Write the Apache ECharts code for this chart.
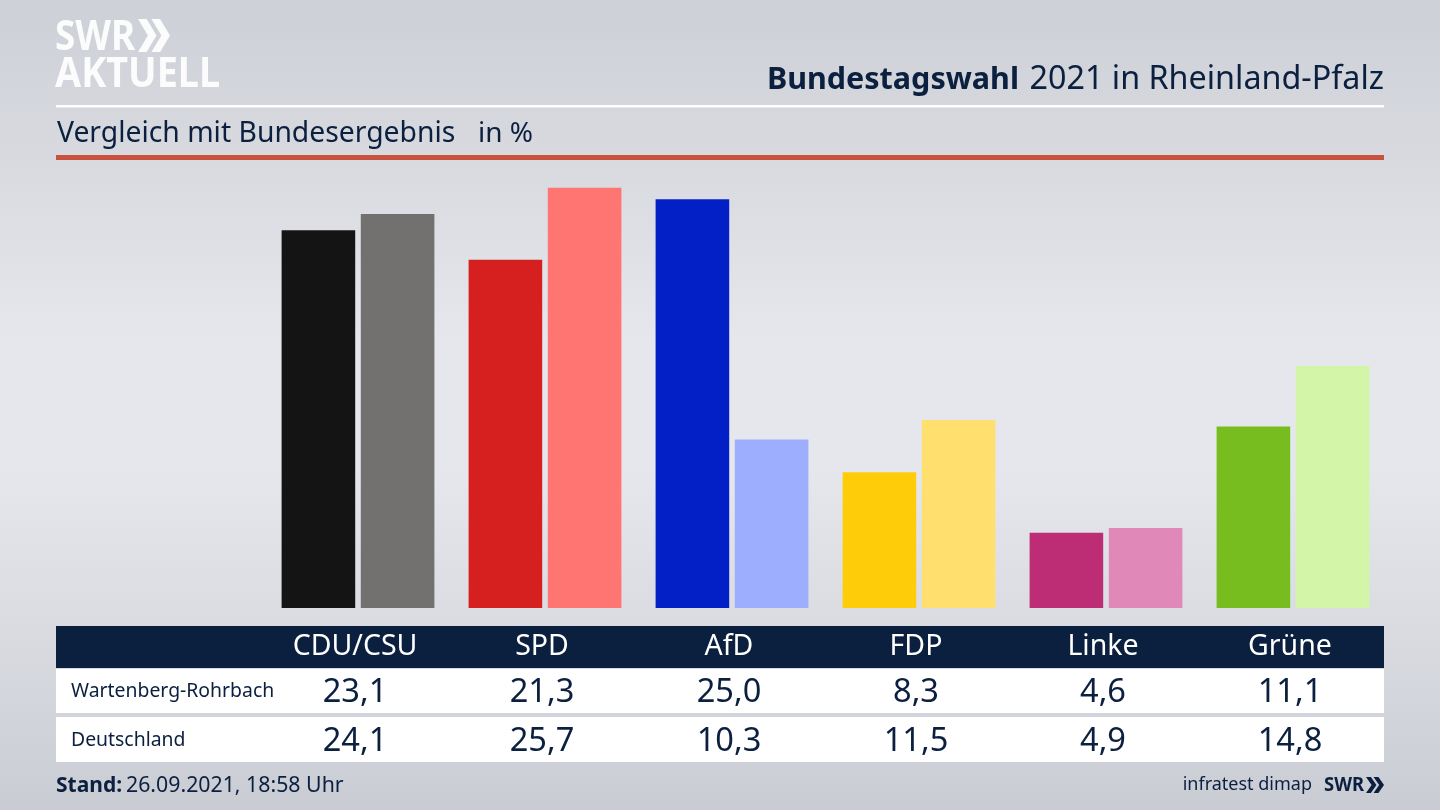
<!DOCTYPE html>
<html>
<head>
<meta charset="utf-8">
<style>html,body{margin:0;padding:0;background:#d8dae0}#main{width:1440px;height:810px}</style>
<script src="https://cdn.jsdelivr.net/npm/echarts@6/dist/echarts.min.js"></script>
</head>
<body>
<div id="main"></div>
<script>
// data
var parties = ['CDU/CSU', 'SPD', 'AfD', 'FDP', 'Linke', 'Grüne'];
var localName = 'Wartenberg-Rohrbach';
var nationalName = 'Deutschland';
var localValues = [23.1, 21.3, 25.0, 8.3, 4.6, 11.1];
var nationalValues = [24.1, 25.7, 10.3, 11.5, 4.9, 14.8];
var localColors = ['#141414', '#d61f1f', '#0320c6', '#ffcc0a', '#bd2d75', '#78bd1f'];
var nationalColors = ['#72716f', '#ff7571', '#9eaeff', '#ffe06f', '#e088b8', '#d3f5a8'];

var navy = '#0b1f3f';
var logoWhite = 'rgba(255,255,255,0.92)';
var font = '"Noto Sans", sans-serif';

function fmt(v) { return v.toFixed(1).replace('.', ','); }

function coloured(values, colors) {
	return values.map(function (v, i) {
		return { value: v, itemStyle: { color: colors[i] } };
	});
}

function rect(x, y, w, h, fill) {
	return { type: 'rect', silent: true, z: 1, shape: { x: x, y: y, width: w, height: h }, style: { fill: fill } };
}

function label(x, y, str, size, fill, align, weight, scaleX) {
	return {
		type: 'text', silent: true, z: 5, x: x, y: y, scaleX: scaleX || 1,
		style: {
			text: str, fill: fill, font: (weight || 'normal') + ' ' + size + 'px ' + font,
			align: align || 'left', verticalAlign: 'middle'
		}
	};
}

// the >> of the SWR logo
function chevrons(x, y, w, h, fill) {
	var cw = w * 0.58, t = w * 0.27, out = [];
	[0, w * 0.42].forEach(function (dx) {
		out.push({
			type: 'polygon', silent: true, z: 5,
			shape: { points: [[x + dx, y], [x + dx + t, y], [x + dx + cw, y + h / 2], [x + dx + t, y + h], [x + dx, y + h], [x + dx + cw - t, y + h / 2]] },
			style: { fill: fill }
		});
	});
	return out;
}

var myChart = echarts.init(document.getElementById('main'), null, { renderer: 'canvas' });

var option = {
	animation: false,
	backgroundColor: {
		type: 'linear', x: 0, y: 0, x2: 0, y2: 1,
		colorStops: [
			{ offset: 0, color: '#cdd0d6' },
			{ offset: 0.2, color: '#d8dae0' },
			{ offset: 0.42, color: '#e6e7ec' },
			{ offset: 0.58, color: '#e6e7ec' },
			{ offset: 0.8, color: '#d8dae0' },
			{ offset: 1, color: '#c9ccd3' }
		]
	},
	grid: { left: 264.5, right: 53.5, top: 166.6, bottom: 202 },
	xAxis: {
		type: 'category', data: parties,
		axisLine: { show: false }, axisTick: { show: false }, axisLabel: { show: false }
	},
	yAxis: { type: 'value', min: 0, max: 27, show: false },
	series: [
		{ name: localName, type: 'bar', barWidth: 73.6, barGap: '7.6%', data: coloured(localValues, localColors) },
		{ name: nationalName, type: 'bar', barWidth: 73.6, data: coloured(nationalValues, nationalColors) }
	]
};
myChart.setOption(option);

// table and header, columns follow the category axis
var els = [
	rect(56, 105, 1328, 2.5, '#ffffff'),
	rect(56, 155, 1328, 5, '#c8523f'),
	rect(56, 626, 1328, 42, navy),
	rect(56, 669, 1328, 44, '#ffffff'),
	rect(56, 717, 1328, 45, '#ffffff'),
	label(55, 38, 'SWR', 42, logoWhite, 'left', 'bold', 0.88),
	label(55, 75, 'AKTUELL', 42, logoWhite, 'left', 'bold', 0.9),
	label(1019, 80, 'Bundestagswahl', 30.5, navy, 'right', 'bold'),
	label(1384, 80, '2021 in Rheinland-Pfalz', 32.3, navy, 'right'),
	label(57, 134, 'Vergleich mit Bundesergebnis', 28.3, navy),
	label(478, 134, 'in %', 28, navy),
	label(71, 691, localName, 19.4, navy),
	label(71, 740, nationalName, 19.4, navy),
	label(56, 786, 'Stand:', 21, navy, 'left', 'bold'),
	label(126, 786, '26.09.2021, 18:58 Uhr', 21.3, navy),
	label(1312, 785, 'infratest dimap', 18, navy, 'right'),
	label(1324, 785, 'SWR', 20, navy, 'left', 'bold', 0.92)
].concat(chevrons(138, 19, 32, 33, logoWhite), chevrons(1366, 777, 18, 16, navy));

parties.forEach(function (p, i) {
	// text sits a little left of the bar pair centre in the original
	var cx = myChart.convertToPixel({ xAxisIndex: 0 }, p) - 3;
	els.push(label(cx, 647, p, 28.5, '#ffffff', 'center'));
	els.push(label(cx, 693, fmt(localValues[i]), 32.6, navy, 'center'));
	els.push(label(cx, 742, fmt(nationalValues[i]), 32.6, navy, 'center'));
});
myChart.setOption({ graphic: els });
</script>
</body>
</html>
